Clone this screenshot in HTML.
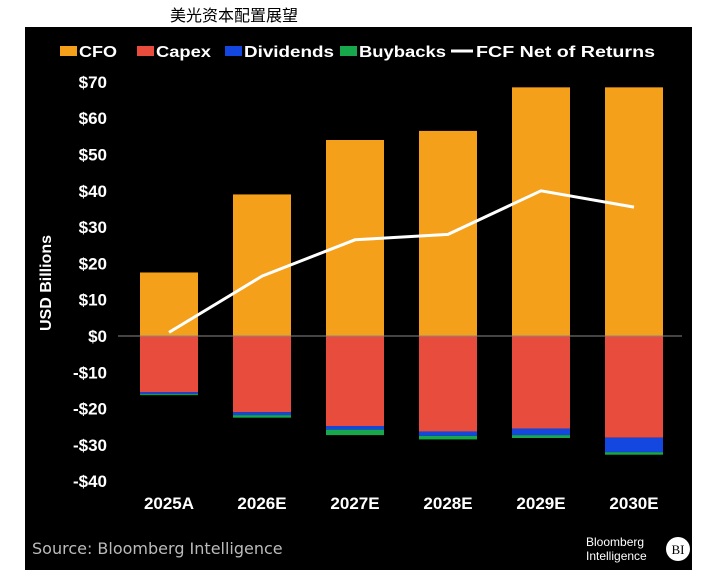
<!DOCTYPE html>
<html><head><meta charset="utf-8">
<style>
html,body{margin:0;padding:0;background:#fff;}
body{width:717px;height:579px;position:relative;overflow:hidden;font-family:"Liberation Sans","Noto Sans CJK SC",sans-serif;}
#title{position:absolute;left:170px;top:2px;font-size:16px;color:#000;}
svg{position:absolute;left:0;top:0;}
</style></head>
<body>
<div id="title">美光资本配置展望</div>
<svg id="chart" width="717" height="579"></svg>
<script>
const categories=["2025A","2026E","2027E","2028E","2029E","2030E"];
const cfo=[17.5,39,54,56.5,68.5,68.5];
const capex=[-15.5,-21,-24.8,-26.3,-25.5,-28];
const dividends=[-0.5,-0.8,-1,-1.2,-1.8,-4];
const buybacks=[-0.3,-0.7,-1.5,-1,-0.8,-0.7];
const fcf=[1,16.5,26.5,28,40,35.5];
const yTicks=[70,60,50,40,30,20,10,0,-10,-20,-30,-40];
const yTickLabels=["$70","$60","$50","$40","$30","$20","$10","$0","-$10","-$20","-$30","-$40"];

const NS="http://www.w3.org/2000/svg";
const svg=document.getElementById('chart');
function el(t,a,p){const e=document.createElementNS(NS,t);for(const k in a)e.setAttribute(k,a[k]);(p||svg).appendChild(e);return e;}
const y=v=>336-v*3.63;
const xc=i=>169+i*93;
const bw=58;
const F='"Liberation Sans","DejaVu Sans",sans-serif';

const bg=el('rect',{x:25,y:27,width:667,height:543,fill:'#000'});



// legend: [label, color, square x, text length]
const legend=[["CFO","#f5a01a",60,38],["Capex","#e84c3d",137,55],["Dividends","#1446e0",225,90],["Buybacks","#17a84b",340,87]];
legend.forEach(l=>{
  const g=el('g',{});
  
  
  el('rect',{x:l[2],y:46,width:17,height:10,fill:l[1]},g);
  const t=el('text',{x:l[2]+19,y:57,fill:'#fff','font-size':16,'font-weight':'bold','font-family':F,textLength:l[3],lengthAdjust:'spacingAndGlyphs'},g);t.textContent=l[0];
});
const lg=el('g',{});


el('line',{x1:451,y1:51,x2:473,y2:51,stroke:'#fff','stroke-width':3},lg);
const lt=el('text',{x:476,y:57,fill:'#fff','font-size':16,'font-weight':'bold','font-family':F,textLength:179,lengthAdjust:'spacingAndGlyphs'},lg);lt.textContent="FCF Net of Returns";

// y ticks
yTicks.forEach((v,i)=>{
  const t=el('text',{x:107,y:y(v)+6,fill:'#fff','font-size':17,'font-weight':'bold','text-anchor':'end','font-family':F});
  t.textContent=yTickLabels[i];
  
  
});
const yt=el('text',{x:0,y:0,fill:'#fff','font-size':16,'font-weight':'bold','text-anchor':'middle','font-family':F,transform:'translate(51,283) rotate(-90)'});
yt.textContent="USD Billions";



// bars
categories.forEach((c,i)=>{
  const x=xc(i)-bw/2;
  const r1=el('rect',{x:x,y:y(cfo[i]),width:bw,height:y(0)-y(cfo[i]),fill:'#f5a01a'});
  
  
  let base=0;
  [[capex,'#e84c3d','capex'],[dividends,'#1446e0','dividends'],[buybacks,'#17a84b','buybacks']].forEach(s=>{
    const top=base,bot=base+s[0][i];
    const r=el('rect',{x:x,y:y(top),width:bw,height:y(bot)-y(top),fill:s[1]});
    
    
    base=bot;
  });
  const t=el('text',{x:xc(i),y:509,fill:'#fff','font-size':17,'font-weight':'bold','text-anchor':'middle','font-family':F});
  t.textContent=c;
  
  
});
const zl=el('line',{x1:118,y1:y(0),x2:682,y2:y(0),stroke:'#888','stroke-width':1});



const pl=el('polyline',{points:fcf.map((v,i)=>xc(i)+','+y(v)).join(' '),fill:'none',stroke:'#fff','stroke-width':3,'stroke-linejoin':'round'});



const src=el('text',{x:32,y:554,fill:'#bbb','font-size':16,'font-family':'"DejaVu Sans",sans-serif'});
src.textContent="Source: Bloomberg Intelligence";


const lo=el('g',{});


const b1=el('text',{x:586,y:546,fill:'#fff','font-size':12,'font-family':F},lo);b1.textContent="Bloomberg";
const b2=el('text',{x:586,y:560,fill:'#fff','font-size':12,'font-family':F},lo);b2.textContent="Intelligence";
el('circle',{cx:678,cy:549,r:12,fill:'#fff'},lo);
const b3=el('text',{x:678,y:554,fill:'#000','font-size':13,'text-anchor':'middle','font-family':'"Liberation Serif",serif'},lo);b3.textContent="BI";
</script>
</body></html>
